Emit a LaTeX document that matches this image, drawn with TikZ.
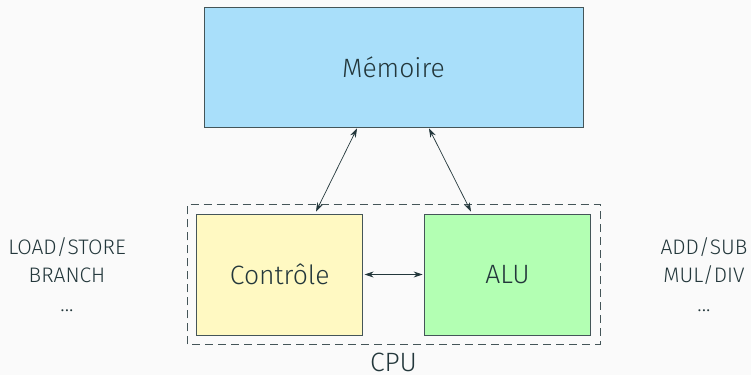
\documentclass[tikz,border=0pt]{standalone}
\usepackage{fontspec}
\setmainfont{Fira Sans}[UprightFont=* Light]
\usetikzlibrary{arrows.meta,calc}
\definecolor{ink}{HTML}{23373B}
\definecolor{bg}{HTML}{FAFAFA}
\definecolor{memfill}{HTML}{A9DFFA}
\definecolor{ctlfill}{HTML}{FFF9C2}
\definecolor{alufill}{HTML}{B3FFB3}
\tikzset{
  unit/.style={draw=ink!85, line width=0.8pt, inner sep=0pt, text=ink, font=\fontsize{26.5}{30}\selectfont},
  side/.style={text=ink, anchor=base, inner sep=0pt, font=\fontsize{21}{24}\selectfont},
  link/.style={ink, line width=0.7pt, {Stealth[length=9pt,width=6pt]}-{Stealth[length=9pt,width=6pt]}}
}
\begin{document}
\begin{tikzpicture}[x=1pt,y=1pt]
  \fill[bg] (0,0) rectangle (751,375);
  \useasboundingbox (0,0) rectangle (751,375);
  % memory unit
  \node[unit, fill=memfill, minimum width=379pt, minimum height=120pt] (mem) at (393.5,308) {Mémoire};
  % processor parts
  \node[unit, fill=ctlfill, minimum width=166pt, minimum height=121pt] (ctl) at (279.7,100.5) {Contrôle};
  \node[unit, fill=alufill, minimum width=166pt, minimum height=121pt] (alu) at (507.5,100.5) {ALU};
  % CPU enclosure
  \draw[ink!85, line width=0.8pt, dash pattern=on 8pt off 5pt] (187.3,30.7) rectangle (600,170.3);
  \node[text=ink, anchor=base, inner sep=0pt, text depth=0pt, font=\fontsize{26.5}{30}\selectfont] (cpu) at (393.5,3.8) {CPU};
  % instruction groups
  \node[side] (ctlopsA) at (67,121) {LOAD/STORE};
  \node[side] (ctlopsB) at (67,93) {BRANCH};
  \node[side] (ctlopsC) at (67,64) {...};
  \node[side] (aluopsA) at (704,121) {ADD/SUB};
  \node[side] (aluopsB) at (704,93) {MUL/DIV};
  \node[side] (aluopsC) at (704,64) {...};
  % data paths
  \draw[link] ($(mem.south)+(-36.5,-1)$) -- ($(ctl.north)+(36.3,2)$);
  \draw[link] ($(mem.south)+(35.5,-1)$) -- ($(alu.north)+(-36.5,2)$);
  \draw[link] ($(ctl.east)+(1.5,0)$) -- ($(alu.west)+(-1.5,0)$);
\end{tikzpicture}
\end{document}
